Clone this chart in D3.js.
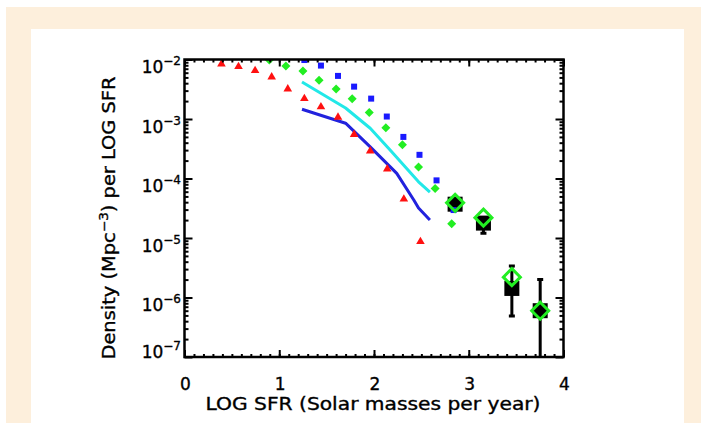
<!DOCTYPE html>
<html>
<head>
<meta charset="utf-8">
<script src="https://cdn.jsdelivr.net/npm/d3@7"></script>
<style>
html,body{margin:0;padding:0;background:#fff;}
svg{display:block;}
text{font-family:"DejaVu Sans",sans-serif;fill:#000;stroke:#000;stroke-width:0.35px;}
</style>
</head>
<body>
<svg id="chart" width="701" height="423"></svg>
<script>
// ---- data ----
const redX   = [0.39,0.57,0.745,0.92,1.09,1.265,1.44,1.62,1.79,1.96,2.14,2.315,2.49];
const redY   = [8.4e-3,7.6e-3,6.5e-3,5.1e-3,3.2e-3,2.2e-3,1.6e-3,1.07e-3,5.5e-4,2.9e-4,1.45e-4,4.5e-5,8.7e-6];
const greenX = [0.895,1.07,1.25,1.42,1.60,1.77,1.95,2.125,2.30,2.47,2.645,2.82];
const greenY = [9.8e-3,7.8e-3,6.4e-3,4.5e-3,3.2e-3,2.2e-3,1.28e-3,7.1e-4,3.7e-4,1.56e-4,6.8e-5,1.74e-5];
const blueX  = [1.265,1.44,1.62,1.79,1.97,2.135,2.31,2.48,2.66,2.84];
const blueY  = [9.8e-3,7.9e-3,5.3e-3,3.5e-3,2.2e-3,1.1e-3,5.0e-4,2.5e-4,9.3e-5,2.95e-5];
const cyanX  = [1.24,1.70,1.96,2.17,2.47,2.59];
const cyanY  = [4.2e-3,1.53e-3,7.0e-4,3.0e-4,8.8e-5,5.9e-5];
const navyX  = [1.24,1.70,1.96,2.24,2.42,2.47,2.59];
const navyY  = [1.46e-3,8.5e-4,3.4e-4,1.22e-4,4.35e-5,3.2e-5,2.0e-5];
const bigX   = [2.856,3.155,3.455,3.754];
const bigY   = [3.7e-5,1.78e-5,1.42e-6,6.0e-7];
const errLo  = [3.2e-5,1.2e-5,4.9e-7,1e-8];
const errHi  = [4.3e-5,2.0e-5,3.4e-6,2.0e-6];
const diamY  = [3.9e-5,2.2e-5,2.2e-6,6.0e-7];
const xTicks = [0,1,2,3,4];
const yExps  = [-2,-3,-4,-5,-6,-7];
const xTitle = "LOG SFR (Solar masses per year)";

// ---- layout ----
const svg = d3.select("#chart");
const L = 184.5, R = 563.5, T = 59.5, B = 357;
const x = d3.scaleLinear().domain([0,4]).range([L,R]);
const y = d3.scaleLog().domain([1e-7,1e-2]).range([B,T]);

// background panels
svg.append("rect").attr("x",6).attr("y",7).attr("width",695).attr("height",416).attr("fill","#fdefdc");
svg.append("rect").attr("x",31).attr("y",29).attr("width",653).attr("height",394).attr("fill","#ffffff");

svg.append("clipPath").attr("id","clip").append("rect")
  .attr("x",L).attr("y",T).attr("width",R-L).attr("height",B-T);
const plot = svg.append("g").attr("clip-path","url(#clip)");

// big black squares with error bars
const big = bigX.map((v,i)=>({x:v,y:bigY[i],lo:errLo[i],hi:errHi[i],d:diamY[i]}));
plot.selectAll(".err").data(big).enter().append("line")
  .attr("x1",d=>x(d.x)).attr("x2",d=>x(d.x))
  .attr("y1",d=>y(d.lo)).attr("y2",d=>y(d.hi))
  .attr("stroke","#000").attr("stroke-width",3);
plot.selectAll(".capHi").data(big).enter().append("line")
  .attr("x1",d=>x(d.x)-3).attr("x2",d=>x(d.x)+3)
  .attr("y1",d=>y(d.hi)).attr("y2",d=>y(d.hi))
  .attr("stroke","#000").attr("stroke-width",3);
plot.selectAll(".capLo").data(big).enter().append("line")
  .attr("x1",d=>x(d.x)-3).attr("x2",d=>x(d.x)+3)
  .attr("y1",d=>y(d.lo)).attr("y2",d=>y(d.lo))
  .attr("stroke","#000").attr("stroke-width",3);
plot.selectAll(".bsq").data(big).enter().append("rect")
  .attr("x",d=>x(d.x)-7.5).attr("y",d=>y(d.y)-7.5)
  .attr("width",15).attr("height",15).attr("fill","#000");

// lines
const line = d3.line().x(d=>x(d[0])).y(d=>y(d[1]));
plot.append("path").datum(cyanX.map((v,i)=>[v,cyanY[i]]))
  .attr("d",line).attr("fill","none").attr("stroke","#22e8e8").attr("stroke-width",3).attr("stroke-linejoin","round");
plot.append("path").datum(navyX.map((v,i)=>[v,navyY[i]]))
  .attr("d",line).attr("fill","none").attr("stroke","#2222dd").attr("stroke-width",3).attr("stroke-linejoin","round");

// small symbols
const tri = d3.symbol().type(d3.symbolTriangle).size(32);
plot.selectAll(".red").data(redX.map((v,i)=>[v,redY[i]])).enter().append("path")
  .attr("d",tri).attr("transform",d=>`translate(${x(d[0])},${y(d[1])})`).attr("fill","#ff1010");
plot.selectAll(".grn").data(greenX.map((v,i)=>[v,greenY[i]])).enter().append("path")
  .attr("d","M0,-4.5L4.5,0L0,4.5L-4.5,0Z").attr("transform",d=>`translate(${x(d[0])},${y(d[1])})`).attr("fill","#22ee22");
plot.selectAll(".blu").data(blueX.map((v,i)=>[v,blueY[i]])).enter().append("rect")
  .attr("x",d=>x(d[0])-3).attr("y",d=>y(d[1])-3).attr("width",6).attr("height",6).attr("fill","#1a1aff");

// hollow green diamonds
plot.selectAll(".hd").data(big).enter().append("path")
  .attr("d","M0,-8.5L8.5,0L0,8.5L-8.5,0Z")
  .attr("transform",d=>`translate(${x(d.x)},${y(d.d)})`)
  .attr("fill","none").attr("stroke","#22ee22").attr("stroke-width",3);

// ---- axes / ticks ----
const ax = svg.append("g");
function drawTicks(axis, sel){ sel.call(axis); sel.select(".domain").remove(); sel.selectAll("text").remove();
  sel.selectAll("line").attr("stroke","#000").attr("stroke-width",2); }
const minorX = d3.range(0,41).map(i=>i/10);
drawTicks(d3.axisBottom(x).tickValues(minorX).tickSize(-3), ax.append("g").attr("transform",`translate(0,${B})`));
drawTicks(d3.axisBottom(x).tickValues(xTicks).tickSize(-7), ax.append("g").attr("transform",`translate(0,${B})`));
drawTicks(d3.axisTop(x).tickValues(minorX).tickSize(-3), ax.append("g").attr("transform",`translate(0,${T})`));
drawTicks(d3.axisTop(x).tickValues(xTicks).tickSize(-7), ax.append("g").attr("transform",`translate(0,${T})`));
const majorY = yExps.map(e=>Math.pow(10,e));
const minorY = [];
for (let e=-7;e<-2;e++) for (let m=2;m<10;m++) minorY.push(m*Math.pow(10,e));
drawTicks(d3.axisLeft(y).tickValues(minorY).tickSize(-4), ax.append("g").attr("transform",`translate(${L},0)`));
drawTicks(d3.axisLeft(y).tickValues(majorY).tickSize(-8), ax.append("g").attr("transform",`translate(${L},0)`));
drawTicks(d3.axisRight(y).tickValues(minorY).tickSize(-4), ax.append("g").attr("transform",`translate(${R},0)`));
drawTicks(d3.axisRight(y).tickValues(majorY).tickSize(-8), ax.append("g").attr("transform",`translate(${R},0)`));

// frame
svg.append("rect").attr("x",L).attr("y",T).attr("width",R-L).attr("height",B-T)
  .attr("fill","none").attr("stroke","#000").attr("stroke-width",2.5);

// x tick labels
svg.selectAll(".xl").data(xTicks).enter().append("text")
  .attr("x",d=>x(d)+1).attr("y",389.5).attr("text-anchor","middle")
  .attr("font-size",17).text(d=>d);

// y tick labels
yExps.forEach((e,i)=>{
  const yy = y(Math.pow(10,e)) + (e===-7 ? 1 : 13.5);
  const t = svg.append("text").attr("x",181).attr("y",yy).attr("text-anchor","end").attr("font-size",17);
  t.append("tspan").text("10");
  t.append("tspan").attr("font-size",12).attr("dy",-8).text("\u2212"+Math.abs(e));
});

// axis titles
svg.append("text").attr("x",373).attr("y",410).attr("text-anchor","middle")
  .attr("font-size",17).attr("textLength",335).attr("lengthAdjust","spacingAndGlyphs").text(xTitle);
const yt = svg.append("text").attr("transform","translate(115,218) rotate(-90)")
  .attr("text-anchor","middle").attr("font-size",17)
  .attr("textLength",283).attr("lengthAdjust","spacingAndGlyphs");
yt.append("tspan").text("Density (Mpc");
yt.append("tspan").attr("font-size",12).attr("dy",-7).text("\u22123");
yt.append("tspan").attr("dy",7).text(") per LOG SFR");
</script>
</body>
</html>
